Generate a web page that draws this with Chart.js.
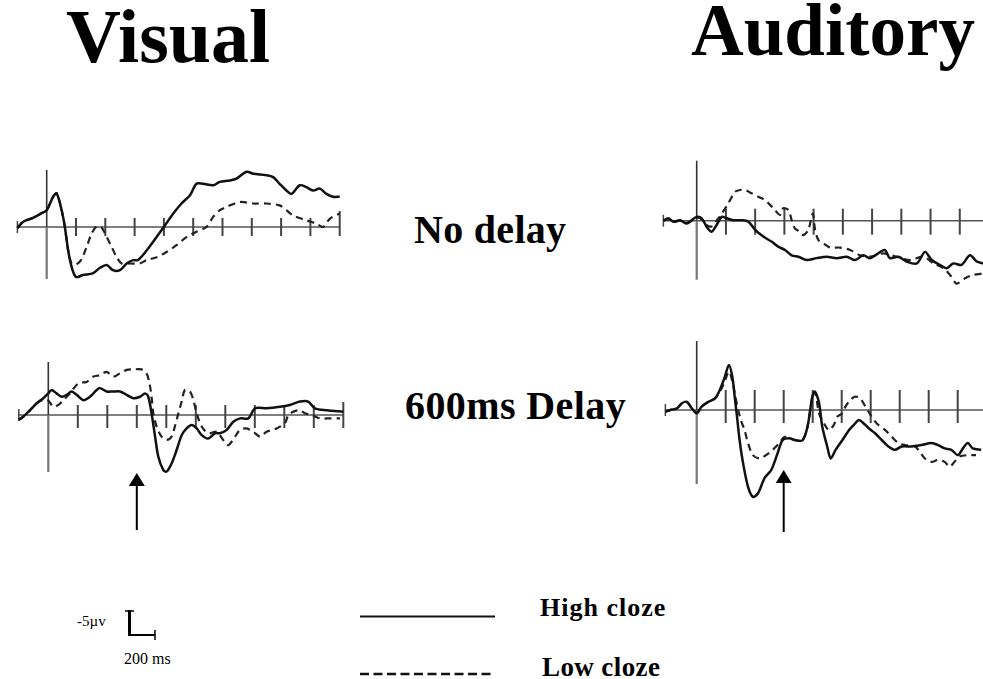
<!DOCTYPE html>
<html>
<head>
<meta charset="utf-8">
<script src="https://cdn.jsdelivr.net/npm/chart.js@4/dist/chart.umd.min.js"></script>
<style>
  html, body { margin: 0; padding: 0; background: #fff; }
  body { width: 983px; height: 679px; position: relative; overflow: hidden; font-family: "Liberation Serif", "Times New Roman", serif; }
  .panel { position: absolute; }
  .txt { position: absolute; white-space: nowrap; line-height: 1; color: #000; }
  .b { font-weight: bold; }
  svg { position: absolute; left: 0; top: 0; }
</style>
</head>
<body>

<div class="txt b" style="left:66px; top:-2px; font-size:76px;">Visual</div>
<div class="txt b" style="left:691px; top:-6px; font-size:73px;">Auditory</div>
<div class="txt b" style="left:414px; top:210px; font-size:40px; letter-spacing:0.3px;">No delay</div>
<div class="txt b" style="left:405px; top:386px; font-size:40px; letter-spacing:0.4px;">600ms Delay</div>
<div class="txt b" style="left:540px; top:595px; font-size:26px; letter-spacing:1px;">High cloze</div>
<div class="txt b" style="left:542px; top:654px; font-size:27px; letter-spacing:0.4px;">Low cloze</div>
<div class="txt" style="left:77px; top:614px; font-size:15px;">-5µv</div>
<div class="txt" style="left:124px; top:651px; font-size:16px;">200 ms</div>

<svg width="983" height="679">
  <!-- calibration bar -->
  <line x1="129.5" y1="610" x2="129.5" y2="636" stroke="#000" stroke-width="3"/>
  <line x1="125" y1="611" x2="134" y2="611" stroke="#000" stroke-width="1.5"/>
  <line x1="129.5" y1="635" x2="155" y2="635" stroke="#000" stroke-width="2"/>
  <line x1="155" y1="630" x2="155" y2="640" stroke="#000" stroke-width="1.5"/>
  <!-- legend samples -->
  <line x1="360" y1="616.5" x2="495" y2="616.5" stroke="#111" stroke-width="2.2"/>
  <line x1="360" y1="674" x2="495" y2="674" stroke="#111" stroke-width="2.6" stroke-dasharray="9 4.5"/>
</svg>

<div class="panel" id="p1" style="left:0px; top:140px; width:360px; height:160px;"><canvas id="c1"></canvas></div>
<div class="panel" id="p2" style="left:0px; top:330px; width:360px; height:210px;"><canvas id="c2"></canvas></div>
<div class="panel" id="p3" style="left:640px; top:140px; width:343px; height:160px;"><canvas id="c3"></canvas></div>
<div class="panel" id="p4" style="left:640px; top:320px; width:343px; height:220px;"><canvas id="c4"></canvas></div>

<script>
// ---- Grand-average waveforms (time in ms, amplitude in µV; negative plotted up) ----

// Visual, no delay
const visNoHighT = [-100,-80,-47,-17,0,22,34,51,62,73,85,100,124,159,182,205,226,250,273,295,311,341,375,403,432,460,489,511,534,568,591,625,648,682,705,750,773,795,818,835,864,886,909,932,955,977,1000];
const visNoHighV = [0.2,-1.1,-1.9,-2.9,-3.5,-6.3,-7.0,-3.5,0,4.8,8.3,10.4,10.0,9.6,8.5,7.9,9.0,9.0,7.6,6.9,6.9,4.9,2.1,-0.3,-2.8,-4.9,-6.6,-9.0,-9.0,-8.7,-9.4,-9.7,-10.1,-11.5,-11.1,-10.8,-10.4,-9.0,-7.6,-6.9,-8.7,-8.3,-7.6,-8.0,-6.9,-6.3,-6.3];
const visNoLowT = [-100,-80,-47,-17,0,22,34,51,62,73,85,100,117,136,153,170,187,205,222,239,256,284,318,341,375,409,443,477,511,545,568,591,614,659,705,750,795,818,841,886,920,943,966,1000];
const visNoLowV = [0.2,-1.1,-1.9,-2.9,-3.5,-6.3,-7.0,-3.5,0,4.8,7.6,7.8,6.9,4.2,1.4,-0.1,0.1,2.1,4.2,6.3,7.6,7.6,7.6,6.9,6.3,5.2,3.8,2.1,1.0,0,-2.1,-3.5,-4.2,-5.2,-4.9,-4.9,-4.5,-3.5,-2.4,-1.4,-0.7,0,-1.7,-2.8];

// Visual, 600 ms delay
const visDelHighT = [-100,-85,-62,-40,-17,0,11,28,45,62,79,96,119,141,164,175,198,220,243,266,288,311,328,339,350,362,373,390,401,418,435,452,469,486,503,520,542,565,582,605,627,650,678,701,740,785,819,853,881,904,944,1000];
const visDelHighV = [1.0,0.35,-1.0,-2.4,-3.5,-4.5,-5.2,-4.5,-3.8,-4.2,-4.9,-4.2,-3.1,-3.8,-5.2,-5.6,-4.9,-4.9,-4.9,-4.2,-3.5,-3.8,-4.5,-3.8,-0.35,4.5,8.7,11.5,11.8,10.1,7.3,4.2,2.8,2.1,2.8,4.2,4.9,3.8,3.8,3.1,1.4,0.7,0.7,-1.4,-1.4,-1.7,-2.1,-2.8,-2.8,-1.4,-1.0,-0.7];
const visDelLowT = [-100,-85,-62,-40,-17,0,17,34,51,73,102,130,153,175,198,220,243,266,288,316,333,343,350,356,367,384,401,418,429,441,452,463,480,492,503,520,542,571,593,610,633,650,672,695,718,740,774,802,814,831,853,870,893,921,955,989];
const visDelLowV = [1.0,0.35,-1.0,-2.4,-3.2,-3.0,-1.7,-2.1,-3.1,-4.5,-6.6,-6.9,-8.0,-8.3,-9.0,-8.0,-8.7,-9.4,-9.5,-9.5,-8.7,-6.6,-3.8,-0.35,2.4,4.5,5.2,4.5,2.4,-0.35,-2.8,-5.2,-4.9,-3.1,-0.35,2.4,3.8,3.5,5.2,6.3,4.5,3.1,2.8,3.5,4.5,3.5,2.8,1.7,0,-0.7,-1.0,-0.35,0,0.7,0.7,0.7];

// Auditory, no delay
const audNoHighT = [-114,-97,-80,-57,-34,-17,0,17,34,51,68,86,103,125,154,177,200,228,257,279,302,325,348,376,410,445,479,513,542,570,593,621,644,661,690,718,753,781,804,832,855,878,906,935,958,981];
const audNoHighV = [0,-0.5,0.2,-0.1,0.6,-0.1,-0.8,-0.5,1.25,2.3,0.9,-0.8,-0.5,-0.1,-0.1,0.2,1.9,3.3,4.4,5.4,6.1,7.2,7.5,8.2,7.8,7.5,7.8,7.5,8.2,7.2,7.8,6.8,6.1,7.8,7.5,8.5,8.9,6.5,8.2,9.2,9.9,8.9,9.2,7.2,8.5,8.9];
const audNoLowT = [-114,-97,-80,-57,-34,-17,0,17,34,51,68,86,108,131,148,165,188,211,234,251,268,285,296,314,325,336,353,365,382,397,405,416,433,456,490,525,559,593,639,684,730,775,810,844,872,889,918,946,981];
const audNoLowV = [0,-0.3,0.3,0,0.4,0,-0.6,-0.3,0.9,1.2,0,-1.5,-3.6,-6.0,-6.4,-6.4,-5.7,-5.0,-4.3,-3.3,-2.2,-1.2,-2.6,-2.2,-0.1,1.6,2.3,3.0,1.9,-1.5,1.9,4.0,4.7,5.6,5.6,6.1,7.2,7.5,6.8,7.5,8.2,7.5,8.9,9.9,11.7,13.1,12.0,11.3,11.0];

// Auditory, 600 ms delay
const audDelHighT = [-108,-91,-68,-51,-34,-17,0,17,40,63,80,97,111,123,131,139,148,160,177,194,211,234,257,279,296,319,342,365,382,399,408,422,433,450,462,479,502,525,542,559,576,593,616,639,661,684,707,741,775,810,832,855,878,901,918,935,952,981];
const audDelHighV = [0.35,0,-0.35,-1.4,-1.7,-0.35,0.7,-0.7,-1.7,-2.4,-4.2,-6.9,-9.4,-6.9,-2.8,1.4,6.3,11.1,16.0,18.1,17.4,14.2,12.5,9.0,6.3,5.9,6.3,6.3,3.5,-2.8,-3.8,-1.4,3.5,7.6,10.1,8.3,6.3,4.2,3.1,2.1,2.8,3.8,4.9,6.3,7.6,8.3,7.6,7.6,7.3,6.9,7.3,8.0,8.3,9.4,8.0,6.9,8.0,8.3];
const audDelLowT = [-108,-91,-68,-51,-34,-17,0,17,40,63,80,97,111,123,131,143,154,165,177,194,217,239,262,285,302,319,342,365,382,399,408,422,439,456,473,485,502,513,530,547,564,582,599,621,650,673,696,718,753,787,810,832,855,872,889,906,935,963];
const audDelLowV = [0.35,0,-0.35,-1.4,-1.7,-0.35,0.5,-0.7,-1.7,-2.4,-3.8,-6.0,-8.0,-6.0,-3.5,0,2.4,4.2,6.9,9.4,10.1,9.4,8.3,6.9,5.6,5.9,6.3,6.3,3.5,-2.8,-3.8,0.7,2.8,4.2,3.1,1.4,0.7,-0.7,-2.1,-2.8,-2.4,-0.7,1.0,2.8,4.2,5.6,6.9,7.3,7.6,10.1,10.8,10.4,10.8,11.8,10.8,9.7,9.4,9.4];

// Tick times (ms) along each time axis
const visTicks = [100,200,300,400,500,600,700,800,900,1000];
const audTicks = [100,200,300,400,500,600,700,800,900];
// Time marked by the arrow under the delayed conditions
const arrowTime = 300;

// ---- Drawing ----
function pts(t, v) { return t.map((x, i) => ({ x: x, y: v[i] })); }

// Draws the baseline, the stimulus-onset line, time ticks and the optional arrow
const erpAxes = {
  id: 'erpAxes',
  beforeDatasetsDraw(chart, args, o) {
    const ctx = chart.ctx, xs = chart.scales.x, ys = chart.scales.y;
    const y0 = ys.getPixelForValue(0), x0 = xs.getPixelForValue(0);
    ctx.save();
    ctx.lineCap = 'butt';
    // baseline
    ctx.strokeStyle = '#555';
    ctx.lineWidth = 1.5;
    ctx.beginPath();
    ctx.moveTo(xs.getPixelForValue(o.start), y0);
    ctx.lineTo(Math.min(xs.getPixelForValue(o.end), chart.width), y0);
    ctx.stroke();
    // onset line
    ctx.strokeStyle = '#333';
    ctx.lineWidth = 1.6;
    ctx.beginPath();
    ctx.moveTo(x0, y0 - o.vUp);
    ctx.lineTo(x0, y0);
    ctx.stroke();
    ctx.strokeStyle = '#777';
    ctx.lineWidth = 2.2;
    ctx.beginPath();
    ctx.moveTo(x0, y0);
    ctx.lineTo(x0, y0 + o.vDown);
    ctx.stroke();
    // ticks
    ctx.strokeStyle = '#444';
    ctx.lineWidth = 2;
    o.ticks.forEach((t, i) => {
      const x = xs.getPixelForValue(t);
      const up = (o.lastUp && i === o.ticks.length - 1) ? o.lastUp : o.tUp;
      ctx.beginPath();
      ctx.moveTo(x, y0 - up);
      ctx.lineTo(x, y0 + o.tDown);
      ctx.stroke();
    });
    // small mark at the start of the sweep
    const xs0 = xs.getPixelForValue(o.start);
    ctx.lineWidth = 1.5;
    ctx.beginPath();
    ctx.moveTo(xs0, y0 - 6);
    ctx.lineTo(xs0, y0 + 6);
    ctx.stroke();
    // arrow
    if (o.arrow !== undefined) {
      const ax = xs.getPixelForValue(o.arrow);
      const tip = y0 + o.arrowTip, base = y0 + o.arrowBase;
      ctx.strokeStyle = '#000';
      ctx.fillStyle = '#000';
      ctx.lineWidth = 2;
      ctx.beginPath();
      ctx.moveTo(ax, tip + 10);
      ctx.lineTo(ax, base);
      ctx.stroke();
      ctx.beginPath();
      ctx.moveTo(ax, tip);
      ctx.lineTo(ax - 8, tip + 13);
      ctx.lineTo(ax + 8, tip + 13);
      ctx.closePath();
      ctx.fill();
    }
    ctx.restore();
  }
};

function makePanel(id, box, high, low, axes) {
  // box: canvas size, pixel position of (0 ms, 0 µV) and scale factors
  const xMin = -box.x0 / box.pxPerMs, xMax = (box.w - box.x0) / box.pxPerMs;
  const yMin = -box.y0 / box.pxPerUv, yMax = (box.h - box.y0) / box.pxPerUv;
  return new Chart(document.getElementById(id), {
    type: 'line',
    data: {
      datasets: [
        { label: 'High cloze', data: high, borderColor: '#111', borderWidth: 2.5, pointRadius: 0, tension: 0.3, fill: false },
        { label: 'Low cloze', data: low, borderColor: '#222', borderWidth: 2.2, borderDash: [7, 5], pointRadius: 0, tension: 0.3, fill: false }
      ]
    },
    options: {
      responsive: true,
      maintainAspectRatio: false,
      animation: false,
      events: [],
      layout: { padding: 0 },
      scales: {
        x: { type: 'linear', display: false, min: xMin, max: xMax },
        y: { type: 'linear', display: false, reverse: true, min: yMin, max: yMax }
      },
      plugins: { legend: { display: false }, tooltip: { enabled: false }, erpAxes: axes }
    },
    plugins: [erpAxes]
  });
}

makePanel('c1', { w: 360, h: 160, x0: 46.7, y0: 87, pxPerMs: 0.293, pxPerUv: 4.8 },
  pts(visNoHighT, visNoHighV), pts(visNoLowT, visNoLowV),
  { start: -100, end: 1000, ticks: visTicks, tUp: 9, tDown: 9, lastUp: 16, vUp: 57, vDown: 52 });

makePanel('c2', { w: 360, h: 210, x0: 48.3, y0: 85, pxPerMs: 0.295, pxPerUv: 4.8 },
  pts(visDelHighT, visDelHighV), pts(visDelLowT, visDelLowV),
  { start: -100, end: 1000, ticks: visTicks, tUp: 10, tDown: 13, lastUp: 13, vUp: 53, vDown: 57, arrow: arrowTime, arrowTip: 58, arrowBase: 115 });

makePanel('c3', { w: 343, h: 160, x0: 56.7, y0: 80.7, pxPerMs: 0.2923, pxPerUv: 4.8 },
  pts(audNoHighT, audNoHighV), pts(audNoLowT, audNoLowV),
  { start: -114, end: 1000, ticks: audTicks, tUp: 12, tDown: 14, vUp: 60, vDown: 59 });

makePanel('c4', { w: 343, h: 220, x0: 56.7, y0: 90, pxPerMs: 0.29, pxPerUv: 4.8 },
  pts(audDelHighT, audDelHighV), pts(audDelLowT, audDelLowV),
  { start: -108, end: 1000, ticks: audTicks, tUp: 20, tDown: 13, vUp: 69, vDown: 74, arrow: arrowTime, arrowTip: 60, arrowBase: 122 });
</script>
</body>
</html>
